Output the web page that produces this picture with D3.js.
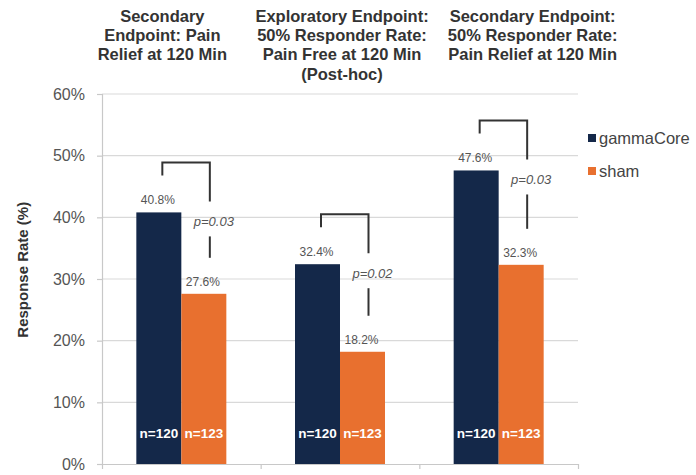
<!DOCTYPE html>
<html>
<head>
<meta charset="utf-8">
<script src="https://cdn.jsdelivr.net/npm/d3@7"></script>
<style>
  body { margin: 0; background: #fff; }
  svg { display: block; font-family: "Liberation Sans", Arial, sans-serif; }
</style>
</head>
<body>
<div class="chart"></div>
<script>
// Chart data
const categories = ['Pain Relief', 'Pain Free 50%', 'Pain Relief 50%'];
const titles = [
  ['Secondary', 'Endpoint: Pain', 'Relief at 120 Min'],
  ['Exploratory Endpoint:', '50% Responder Rate:', 'Pain Free at 120 Min', '(Post-hoc)'],
  ['Secondary Endpoint:', '50% Responder Rate:', 'Pain Relief at 120 Min']
];
const seriesNames = ['gammaCore', 'sham'];
const gammaCore = [40.8, 32.4, 47.6];
const sham = [27.6, 18.2, 32.3];
const nLabels = ['n=120', 'n=123'];
const pValues = ['p=0.03', 'p=0.02', 'p=0.03'];
const yTicks = [0, 10, 20, 30, 40, 50, 60];

const colors = { gammaCore: '#142849', sham: '#e8702f' };

function setupChart() {
    const width = 696;
    const height = 475;
    const margin = {'top': 94, 'right': 118, 'bottom': 11, 'left': 102};
    const graphWidth = width - margin.left - margin.right;
    const graphHeight = height - margin.top - margin.bottom;

    const svg = d3.select('.chart')
        .append('svg')
        .attr('width', width)
        .attr('height', height);

    const graph = svg.append('g')
        .attr('transform', `translate(${margin.left}, ${margin.top})`);

    return { svg, graph, width, graphWidth, graphHeight, margin };
}

function drawChart(cfg) {
    const { svg, graph, graphWidth, graphHeight, margin } = cfg;

    const x = d3.scaleBand()
        .domain(categories)
        .range([0, graphWidth]);

    const barW = 45;
    const xSub = d3.scaleBand()
        .domain(seriesNames)
        .range([x.bandwidth() / 2 - barW, x.bandwidth() / 2 + barW]);

    const y = d3.scaleLinear()
        .domain([0, 60])
        .range([graphHeight, 0]);

    // Gridlines
    graph.append('g')
        .selectAll('line')
        .data(yTicks.filter(d => d > 0))
        .enter().append('line')
        .attr('x1', 0).attr('x2', graphWidth)
        .attr('y1', d => y(d)).attr('y2', d => y(d))
        .attr('stroke', '#d9d9d9')
        .attr('stroke-width', 1.2);

    // Y axis
    const yAxis = d3.axisLeft(y)
        .tickValues(yTicks)
        .tickFormat(d => `${d}%`)
        .tickSize(5)
        .tickPadding(12);
    const gY = graph.append('g').call(yAxis);
    gY.select('.domain').attr('stroke', '#c8c8c8').attr('stroke-width', 1.2);
    gY.selectAll('.tick line').attr('stroke', '#c8c8c8').attr('stroke-width', 1.2);
    gY.selectAll('text')
        .style('font-size', '16px')
        .attr('fill', '#555');

    // X axis (no labels, just category ticks)
    const xEdges = d3.scaleLinear().domain([0, categories.length]).range([0, graphWidth]);
    const xAxis = d3.axisBottom(xEdges)
        .ticks(categories.length)
        .tickFormat('')
        .tickSizeInner(5)
        .tickSizeOuter(0);
    const gX = graph.append('g')
        .attr('transform', `translate(0, ${graphHeight})`)
        .call(xAxis);
    gX.select('.domain').attr('stroke', '#c8c8c8').attr('stroke-width', 1.2);
    gX.selectAll('.tick line').attr('stroke', '#c8c8c8').attr('stroke-width', 1.2);

    // Bars
    const rows = categories.map((c, i) => ({
        cat: c, i,
        vals: [{ key: 'gammaCore', v: gammaCore[i] }, { key: 'sham', v: sham[i] }]
    }));

    const groups = graph.selectAll('.grp')
        .data(rows)
        .enter().append('g')
        .attr('class', 'grp')
        .attr('transform', d => `translate(${x(d.cat)}, 0)`);

    groups.selectAll('rect')
        .data(d => d.vals)
        .enter().append('rect')
        .attr('x', d => xSub(d.key))
        .attr('width', xSub.bandwidth())
        .attr('y', d => y(d.v))
        .attr('height', d => graphHeight - y(d.v))
        .attr('fill', d => colors[d.key]);

    // Value labels
    groups.selectAll('.val')
        .data(d => d.vals)
        .enter().append('text')
        .attr('class', 'val')
        .attr('x', d => xSub(d.key) + xSub.bandwidth() / 2 - 1)
        .attr('y', d => y(d.v) - 8)
        .attr('text-anchor', 'middle')
        .style('font-size', '12px')
        .attr('fill', '#555')
        .text(d => d.v.toFixed(1) + '%');

    // n labels inside bars
    groups.selectAll('.nlab')
        .data(d => d.vals.map((v, j) => ({ key: v.key, t: nLabels[j] })))
        .enter().append('text')
        .attr('class', 'nlab')
        .attr('x', d => xSub(d.key) + xSub.bandwidth() / 2)
        .attr('y', graphHeight - 26)
        .attr('text-anchor', 'middle')
        .style('font-size', '13.5px')
        .style('font-weight', 'bold')
        .attr('fill', '#fff')
        .text(d => d.t);

    // Significance brackets
    groups.each(function(d) {
        const g = d3.select(this);
        const xl = xSub('gammaCore') + xSub.bandwidth() / 2 + 3.5;
        const xr = xSub('sham') + xSub.bandwidth() / 2 + 6;
        const top = y(gammaCore[d.i]) - 50;
        g.append('path')
            .attr('d', `M${xl},${top + 13} V${top} H${xr} V${top + 39}`)
            .attr('fill', 'none')
            .attr('stroke', '#333')
            .attr('stroke-width', 2);
        g.append('line')
            .attr('x1', xr).attr('x2', xr)
            .attr('y1', top + 74)
            .attr('y2', y(sham[d.i]) - 36)
            .attr('stroke', '#333')
            .attr('stroke-width', 2);
        g.append('text')
            .attr('x', xr + 4)
            .attr('y', top + 64)
            .attr('text-anchor', 'middle')
            .style('font-size', '13px')
            .style('font-style', 'italic')
            .attr('fill', '#555')
            .text(pValues[d.i]);
    });

    // Category titles above plot
    const titleShift = [-19, 2, 34];
    categories.forEach((c, i) => {
        const t = svg.append('text')
            .attr('text-anchor', 'middle')
            .style('font-size', '16.5px')
            .style('font-weight', 'bold')
            .attr('fill', '#333');
        titles[i].forEach((line, k) => {
            t.append('tspan')
                .attr('x', margin.left + x(c) + x.bandwidth() / 2 + titleShift[i])
                .attr('y', 21.5 + k * 19.4)
                .text(line);
        });
    });

    // Y axis title
    svg.append('text')
        .attr('transform', `translate(28, ${margin.top + y(31.5)}) rotate(-90)`)
        .attr('text-anchor', 'middle')
        .style('font-size', '15px')
        .style('font-weight', 'bold')
        .attr('fill', '#333')
        .text('Response Rate (%)');

    // Legend
    const legend = svg.append('g')
        .attr('transform', `translate(588, 138)`);
    const items = legend.selectAll('g')
        .data(seriesNames)
        .enter().append('g')
        .attr('transform', (d, i) => `translate(0, ${i * 33})`);
    items.append('rect')
        .attr('x', 0).attr('y', -4)
        .attr('width', 8).attr('height', 8)
        .attr('fill', d => colors[d]);
    items.append('text')
        .attr('x', 11).attr('y', 6)
        .style('font-size', '16.5px')
        .attr('fill', '#444')
        .text(d => d);
}

const chartConfig = setupChart();
drawChart(chartConfig);
</script>
</body>
</html>
